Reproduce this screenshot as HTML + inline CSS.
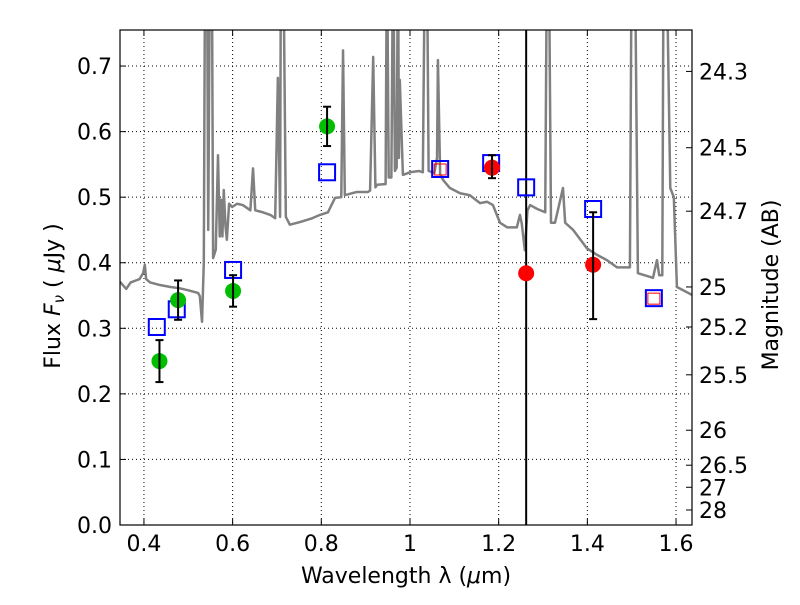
<!DOCTYPE html>
<html><head><meta charset="utf-8"><style>
body{margin:0;background:#fff;}
svg text{font-family:"DejaVu Sans","Liberation Sans",sans-serif;fill:#000;}
</style></head><body>
<svg id="c" width="800" height="600" xmlns="http://www.w3.org/2000/svg"></svg>
<script>
const specLam=[0.346,0.36,0.37,0.39,0.398,0.402,0.405,0.414,0.436,0.46,0.481,0.50,0.522,0.526,0.531,0.535,0.538,0.542,0.545,0.549,0.553,0.556,0.562,0.567,0.571,0.574,0.577,0.580,0.584,0.587,0.592,0.599,0.61,0.623,0.64,0.646,0.651,0.668,0.685,0.696,0.702,0.707,0.709,0.714,0.72,0.729,0.752,0.78,0.797,0.815,0.831,0.845,0.849,0.853,0.88,0.905,0.91,0.917,0.922,0.926,0.945,0.948,0.952,0.958,0.962,0.966,0.970,0.973,0.975,0.977,0.984,1.0,1.02,1.029,1.034,1.038,1.042,1.055,1.061,1.063,1.068,1.075,1.09,1.113,1.135,1.158,1.174,1.187,1.203,1.219,1.241,1.248,1.252,1.259,1.265,1.271,1.287,1.305,1.309,1.313,1.318,1.327,1.345,1.350,1.368,1.388,1.399,1.422,1.444,1.467,1.496,1.500,1.507,1.514,1.548,1.557,1.562,1.569,1.572,1.578,1.587,1.595,1.602,1.636];
const specFlux=[0.371,0.36,0.37,0.375,0.384,0.397,0.375,0.37,0.366,0.363,0.361,0.358,0.354,0.349,0.31,0.4,0.9,0.9,0.45,0.9,0.9,0.407,0.42,0.564,0.44,0.496,0.44,0.511,0.455,0.435,0.49,0.485,0.49,0.488,0.48,0.544,0.48,0.477,0.473,0.468,0.682,0.47,0.9,0.9,0.47,0.458,0.462,0.468,0.473,0.477,0.499,0.5,0.724,0.503,0.508,0.508,0.51,0.714,0.515,0.519,0.52,0.9,0.53,0.53,0.9,0.54,0.545,0.9,0.56,0.679,0.534,0.538,0.54,0.538,0.9,0.9,0.54,0.537,0.56,0.709,0.535,0.526,0.514,0.506,0.503,0.491,0.493,0.488,0.461,0.454,0.454,0.473,0.46,0.419,0.48,0.488,0.482,0.477,0.9,0.9,0.461,0.461,0.514,0.461,0.45,0.432,0.422,0.412,0.404,0.393,0.393,0.9,0.9,0.384,0.377,0.404,0.381,0.381,0.9,0.9,0.514,0.5,0.363,0.351];
const greenLam=[0.435,0.477,0.601,0.813];
const greenFlux=[0.25,0.343,0.357,0.608];
const greenErr=[0.032,0.03,0.024,0.03];
const redLam=[1.185,1.262,1.413];
const redFlux=[0.545,0.384,0.397];
const redErrLo=[0.016,0,0.083];
const redErrHi=[0.019,0,0.08];
const modelLam=[0.429,0.474,0.601,0.813,1.068,1.183,1.262,1.413,1.550];
const modelFlux=[0.302,0.329,0.389,0.538,0.543,0.552,0.515,0.482,0.346];
const redBoxLam=[1.068,1.550];
const redBoxFlux=[0.543,0.346];
const xTicks=[0.4,0.6,0.8,1,1.2,1.4,1.6];
const xTickLabels=["0.4","0.6","0.8","1","1.2","1.4","1.6"];
const yTicks=[0,0.1,0.2,0.3,0.4,0.5,0.6,0.7];
const magTicks=[24.3,24.5,24.7,25,25.2,25.5,26,26.5,27,28];
const vLine=1.262;

const L=120,R=692,T=30,B=525,x0=0.346,x1=1.636,y0=0,y1=0.755;
const X=v=>L+(v-x0)/(x1-x0)*(R-L);
const Y=v=>B-(v-y0)/(y1-y0)*(B-T);
const NS="http://www.w3.org/2000/svg";
const svg=document.getElementById('c');
function mk(t,a,p){const e=document.createElementNS(NS,t);for(const k in a)e.setAttribute(k,a[k]);(p||svg).appendChild(e);return e;}
const defs=mk('defs',{});const cp=mk('clipPath',{id:'cp'},defs);mk('rect',{x:L,y:T,width:R-L,height:B-T},cp);
const g=mk('g',{'clip-path':'url(#cp)'});
xTicks.forEach(v=>{const e=mk('line',{x1:X(v),x2:X(v),y1:T,y2:B,stroke:'#000','stroke-width':1,'stroke-dasharray':'1,3'},g);

});
yTicks.forEach(v=>{const e=mk('line',{x1:L,x2:R,y1:Y(v),y2:Y(v),stroke:'#000','stroke-width':1,'stroke-dasharray':'1,3'},g);

});
const sp=mk('polyline',{points:specLam.map((l,i)=>X(l)+','+Y(specFlux[i])).join(' '),fill:'none',stroke:'#808080','stroke-width':2.5,'stroke-linejoin':'round'},g);


const vl=mk('line',{x1:X(vLine),x2:X(vLine),y1:T,y2:B,stroke:'#000','stroke-width':2},g);


modelLam.forEach((l,i)=>{const e=mk('rect',{x:X(l)-8,y:Y(modelFlux[i])-8,width:16,height:16,fill:'none',stroke:'#0000ff','stroke-width':2},g);

});
redBoxLam.forEach((l,i)=>{const e=mk('rect',{x:X(l)-6,y:Y(redBoxFlux[i])-5,width:12,height:11,fill:'none',stroke:'#ff0000','stroke-width':1},g);

});
function err(x,lo,hi){mk('line',{x1:x,x2:x,y1:Y(lo),y2:Y(hi),stroke:'#000','stroke-width':2},g);
mk('line',{x1:x-4,x2:x+4,y1:Y(lo),y2:Y(lo),stroke:'#000','stroke-width':2},g);
mk('line',{x1:x-4,x2:x+4,y1:Y(hi),y2:Y(hi),stroke:'#000','stroke-width':2},g);}
greenLam.forEach((l,i)=>{const e=mk('circle',{cx:X(l),cy:Y(greenFlux[i]),r:8,fill:'#00bf00'},g);


err(X(l),greenFlux[i]-greenErr[i],greenFlux[i]+greenErr[i]);});
redLam.forEach((l,i)=>{const e=mk('circle',{cx:X(l),cy:Y(redFlux[i]),r:8,fill:'#ff0000'},g);


if(redErrHi[i]>0)err(X(l),redFlux[i]-redErrLo[i],redFlux[i]+redErrHi[i]);});
const fr=mk('rect',{x:L,y:T,width:R-L,height:B-T,fill:'none',stroke:'#000','stroke-width':1.2});


xTicks.forEach((v,i)=>{mk('line',{x1:X(v),x2:X(v),y1:B,y2:B-6,stroke:'#000'});mk('line',{x1:X(v),x2:X(v),y1:T,y2:T+6,stroke:'#000'});
const t=mk('text',{x:X(v),y:B+26,'font-size':22,'text-anchor':'middle'});t.textContent=xTickLabels[i];

});
yTicks.forEach(v=>{mk('line',{x1:L,x2:L+6,y1:Y(v),y2:Y(v),stroke:'#000'});
const t=mk('text',{x:L-8,y:Y(v)+8,'font-size':22,'text-anchor':'end'});t.textContent=v.toFixed(1);

});
magTicks.forEach(m=>{const f=Math.pow(10,(23.9-m)/2.5);const y=Y(f);
mk('line',{x1:R,x2:R-6,y1:y,y2:y,stroke:'#000'});
const t=mk('text',{x:R+7,y:y+8,'font-size':22});t.textContent=String(m);

});
</script>
<svg width="800" height="600" style="position:absolute;left:0;top:0" xmlns="http://www.w3.org/2000/svg">
<text x="406" y="583" font-size="22" text-anchor="middle">Wavelength  λ (<tspan font-style="italic">μ</tspan>m)</text>
<text transform="translate(60,296) rotate(-90)" font-size="22" text-anchor="middle">Flux  <tspan font-style="italic">F</tspan><tspan font-style="italic" font-size="15" dy="4">ν</tspan><tspan dy="-4">  ( </tspan><tspan font-style="italic">μ</tspan>Jy )</text>
<text transform="translate(778,285) rotate(-90)" font-size="22" text-anchor="middle">Magnitude (AB)</text>
</svg>
</body></html>
